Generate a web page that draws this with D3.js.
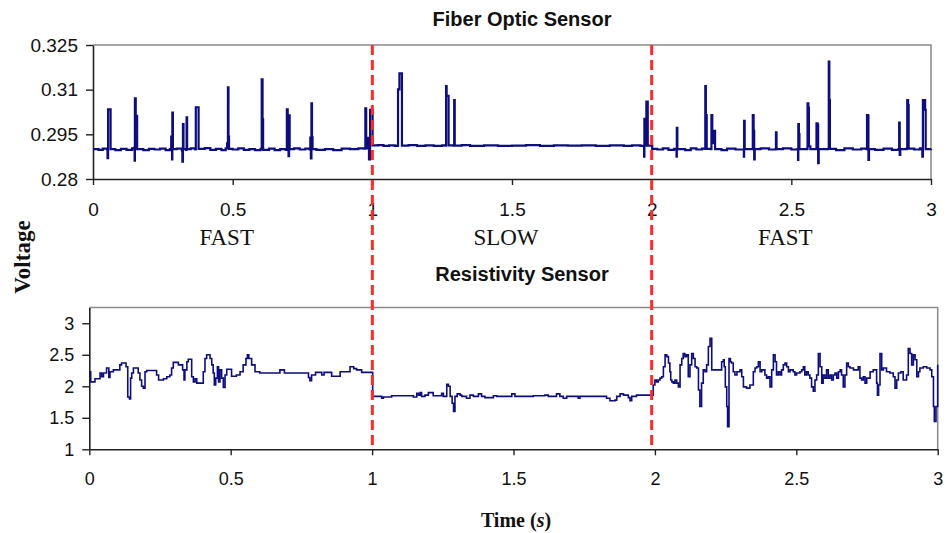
<!DOCTYPE html>
<html lang="en">
<head>
  <meta charset="UTF-8">
  <title>Fiber Optic vs Resistivity Sensor</title>
  <script src="https://cdn.jsdelivr.net/npm/d3@7"></script>
  <style>
    body { margin: 0; background: #fff; }
    svg { display: block; }
    .tick text { font-family: "Liberation Sans", Arial, sans-serif; fill: #111; }
    .title { font-family: "Liberation Sans", Arial, sans-serif; font-weight: bold; font-size: 20px; fill: #111; }
    .serif { font-family: "Liberation Serif", "Times New Roman", serif; fill: #111; }
  </style>
</head>
<body>
  <div id="chart"></div>
  <script>
    // ---- data ----
    const xTickValues = [0, 0.5, 1, 1.5, 2, 2.5, 3]
    const fiberTicks = [0.28, 0.295, 0.31, 0.325]
    const resistTicks = [1, 1.5, 2, 2.5, 3]
    const phaseLabels = ['FAST', 'SLOW', 'FAST']
    const phaseCentres = [0.5, 1.5, 2.5]
    const switchTimes = [1, 2]

    // fiber optic sensor voltage [time s, volts]
    const fiberSeries = [
      [0, 0.2900], [0.02, 0.2898], [0.035, 0.2902], [0.05, 0.2899], [0.052, 0.2870], [0.054, 0.3034], [0.062, 0.3034], [0.063, 0.2900],
      [0.08, 0.2897], [0.10, 0.2901], [0.12, 0.2898], [0.14, 0.2903], [0.147, 0.2905], [0.149, 0.2862], [0.150, 0.3071], [0.153, 0.2990],
      [0.156, 0.3012], [0.158, 0.2900], [0.18, 0.2897], [0.20, 0.2901], [0.22, 0.2899], [0.24, 0.2902], [0.26, 0.2897], [0.275, 0.2900],
      [0.28, 0.2942], [0.283, 0.2866], [0.284, 0.3023], [0.286, 0.2900], [0.30, 0.2902], [0.318, 0.2896], [0.320, 0.2858], [0.322, 0.2984],
      [0.324, 0.2900], [0.333, 0.2898], [0.335, 0.3007], [0.337, 0.2900], [0.35, 0.2903], [0.366, 0.2899], [0.368, 0.3041], [0.377, 0.3041],
      [0.378, 0.2901], [0.40, 0.2904], [0.42, 0.2898], [0.44, 0.2901], [0.46, 0.2897], [0.475, 0.2903], [0.48, 0.2920], [0.483, 0.3108],
      [0.485, 0.2942], [0.487, 0.2901], [0.50, 0.2899], [0.52, 0.2903], [0.54, 0.2898], [0.56, 0.2900], [0.58, 0.2897], [0.60, 0.2901],
      [0.604, 0.3135], [0.607, 0.3000], [0.609, 0.2898], [0.63, 0.2902], [0.65, 0.2897], [0.67, 0.2900], [0.69, 0.2898], [0.694, 0.3034],
      [0.697, 0.3014], [0.700, 0.2877], [0.702, 0.3014], [0.704, 0.2900], [0.72, 0.2903], [0.74, 0.2899], [0.76, 0.2902], [0.775, 0.2899],
      [0.778, 0.2939], [0.780, 0.2869], [0.782, 0.3054], [0.784, 0.2940], [0.786, 0.2900], [0.80, 0.2898], [0.83, 0.2900], [0.86, 0.2897],
      [0.89, 0.2902], [0.92, 0.2900], [0.95, 0.2903], [0.97, 0.2902], [0.975, 0.3037], [0.978, 0.2903], [0.985, 0.2938], [0.988, 0.2866],
      [0.992, 0.3032], [0.999, 0.3032], [1.001, 0.2913],
      [1.02, 0.2914], [1.04, 0.2911], [1.06, 0.2913], [1.08, 0.2911], [1.090, 0.2912], [1.092, 0.3101], [1.097, 0.3155], [1.104, 0.3155],
      [1.106, 0.2912], [1.13, 0.2914], [1.16, 0.2911], [1.19, 0.2913], [1.22, 0.2911], [1.25, 0.2913], [1.262, 0.2912], [1.264, 0.3112],
      [1.266, 0.3079], [1.271, 0.3079], [1.273, 0.2913], [1.291, 0.2912], [1.293, 0.3065], [1.295, 0.2912], [1.32, 0.2914], [1.35, 0.2911],
      [1.40, 0.2913], [1.45, 0.2911], [1.50, 0.2912], [1.55, 0.2914], [1.60, 0.2911], [1.65, 0.2913], [1.70, 0.2912], [1.75, 0.2913],
      [1.80, 0.2911], [1.85, 0.2913], [1.90, 0.2911], [1.93, 0.2913], [1.96, 0.2911], [1.972, 0.2912], [1.973, 0.2875], [1.974, 0.3002],
      [1.980, 0.2912], [1.981, 0.3060], [1.984, 0.3060], [1.986, 0.2912], [1.998, 0.2912], [2.002, 0.2901],
      [2.02, 0.2899], [2.04, 0.2903], [2.06, 0.2898], [2.08, 0.2901], [2.088, 0.2900], [2.089, 0.2875], [2.090, 0.2972], [2.092, 0.2900],
      [2.12, 0.2897], [2.14, 0.2903], [2.16, 0.2899], [2.18, 0.2902], [2.190, 0.2901], [2.192, 0.3112], [2.194, 0.3015], [2.197, 0.2901],
      [2.212, 0.2900], [2.214, 0.3015], [2.217, 0.2920], [2.224, 0.2962], [2.227, 0.2900], [2.25, 0.2897], [2.27, 0.2902], [2.30, 0.2899],
      [2.329, 0.2899], [2.330, 0.2875], [2.331, 0.2995], [2.333, 0.2900], [2.360, 0.2900], [2.362, 0.3015], [2.365, 0.2962], [2.367, 0.2866],
      [2.369, 0.2900], [2.39, 0.2903], [2.42, 0.2899], [2.444, 0.2900], [2.445, 0.2957], [2.447, 0.2900], [2.47, 0.2903], [2.50, 0.2899],
      [2.522, 0.2900], [2.524, 0.2864], [2.525, 0.2984], [2.527, 0.2951], [2.529, 0.2900], [2.556, 0.2901], [2.558, 0.3054], [2.561, 0.3039],
      [2.563, 0.2910], [2.568, 0.2900], [2.588, 0.2900], [2.590, 0.2987], [2.594, 0.2983], [2.596, 0.2853], [2.598, 0.2900], [2.632, 0.2901],
      [2.634, 0.3194], [2.636, 0.3065], [2.638, 0.2901], [2.66, 0.2897], [2.69, 0.2903], [2.72, 0.2899], [2.75, 0.2902], [2.769, 0.2900],
      [2.771, 0.3015], [2.774, 0.3013], [2.776, 0.2864], [2.778, 0.2900], [2.80, 0.2898], [2.83, 0.2902], [2.86, 0.2898], [2.884, 0.2900],
      [2.886, 0.2989], [2.888, 0.2881], [2.890, 0.2900], [2.913, 0.2902], [2.915, 0.3065], [2.918, 0.3049], [2.920, 0.2902], [2.94, 0.2899],
      [2.96, 0.2903], [2.968, 0.2900], [2.969, 0.2875], [2.971, 0.3065], [2.977, 0.3065], [2.979, 0.3032], [2.981, 0.2900], [3.0, 0.2902]
    ]

    // resistivity sensor voltage [time s, volts]
    const resistSeries = [
      [0, 2.23], [0.005, 2.07], [0.02, 2.12], [0.038, 2.21], [0.044, 2.15], [0.05, 2.21], [0.061, 2.29], [0.069, 2.14], [0.073, 2.23],
      [0.085, 2.26], [0.108, 2.34], [0.114, 2.37], [0.130, 2.31], [0.136, 1.83], [0.142, 1.80], [0.146, 2.13], [0.150, 2.21], [0.156, 2.29],
      [0.173, 2.21], [0.179, 2.10], [0.185, 2.00], [0.191, 1.97], [0.197, 2.23], [0.203, 2.25], [0.238, 2.18], [0.245, 2.10], [0.262, 2.12],
      [0.274, 2.15], [0.285, 2.18], [0.291, 2.29], [0.297, 2.38], [0.315, 2.34], [0.330, 2.26], [0.335, 2.10], [0.338, 2.26], [0.345, 2.39],
      [0.350, 2.43], [0.362, 2.15], [0.368, 2.07], [0.374, 2.12], [0.380, 2.05], [0.397, 2.05], [0.403, 2.23], [0.409, 2.44], [0.415, 2.50],
      [0.427, 2.44], [0.433, 2.34], [0.438, 2.21], [0.442, 2.02], [0.447, 2.13], [0.453, 2.31], [0.457, 2.07], [0.462, 2.26], [0.468, 2.13],
      [0.474, 1.98], [0.480, 2.18], [0.486, 2.27], [0.503, 2.16], [0.520, 2.18], [0.533, 2.23], [0.544, 2.34], [0.554, 2.44], [0.559, 2.50],
      [0.564, 2.44], [0.574, 2.34], [0.586, 2.23], [0.603, 2.21], [0.674, 2.26], [0.690, 2.21], [0.775, 2.14], [0.780, 2.09], [0.786, 2.18],
      [0.800, 2.22], [0.822, 2.18], [0.830, 2.22], [0.857, 2.16], [0.887, 2.23], [0.922, 2.31], [0.935, 2.28], [0.945, 2.26], [0.963, 2.22],
      [1.002, 1.84], [1.034, 1.81], [1.040, 1.83], [1.069, 1.85], [1.146, 1.83], [1.158, 1.89], [1.164, 1.86], [1.170, 1.90], [1.175, 1.84],
      [1.187, 1.86], [1.199, 1.90], [1.216, 1.85], [1.246, 1.89], [1.252, 1.84], [1.264, 2.03], [1.270, 2.00], [1.276, 1.84], [1.283, 1.73],
      [1.288, 1.60], [1.293, 1.84], [1.301, 1.88], [1.311, 1.86], [1.317, 1.84], [1.334, 1.81], [1.346, 1.86], [1.358, 1.84], [1.376, 1.88],
      [1.387, 1.84], [1.399, 1.82], [1.429, 1.85], [1.441, 1.84], [1.494, 1.88], [1.505, 1.84], [1.570, 1.85], [1.611, 1.86], [1.623, 1.84],
      [1.652, 1.88], [1.664, 1.84], [1.676, 1.81], [1.688, 1.84], [1.729, 1.81], [1.735, 1.84], [1.829, 1.81], [1.841, 1.77], [1.859, 1.78],
      [1.865, 1.84], [1.877, 1.88], [1.889, 1.86], [1.906, 1.82], [1.912, 1.77], [1.918, 1.84], [1.935, 1.86],
      [1.994, 2.02], [2.000, 2.10], [2.006, 2.07], [2.012, 2.10], [2.018, 2.13], [2.024, 2.15], [2.030, 2.31], [2.036, 2.50], [2.042, 2.47],
      [2.048, 2.37], [2.053, 2.23], [2.056, 2.10], [2.060, 2.07], [2.065, 2.05], [2.071, 2.10], [2.077, 2.05], [2.083, 1.99], [2.089, 2.34],
      [2.095, 2.44], [2.100, 2.52], [2.106, 2.47], [2.112, 2.50], [2.118, 2.15], [2.124, 2.34], [2.130, 2.52], [2.136, 2.44], [2.142, 2.31],
      [2.148, 2.29], [2.154, 1.94], [2.159, 1.68], [2.165, 2.05], [2.171, 2.26], [2.177, 2.23], [2.183, 2.34], [2.189, 2.63], [2.195, 2.76],
      [2.201, 2.26], [2.230, 2.26], [2.236, 2.39], [2.242, 2.42], [2.245, 2.31], [2.249, 1.99], [2.254, 1.68], [2.257, 1.36], [2.262, 2.44],
      [2.267, 2.39], [2.271, 2.37], [2.277, 2.23], [2.283, 2.18], [2.290, 2.23], [2.301, 2.26], [2.307, 2.15], [2.313, 1.99], [2.324, 1.97],
      [2.336, 2.02], [2.348, 2.23], [2.354, 2.29], [2.360, 2.31], [2.366, 2.39], [2.372, 2.23], [2.378, 2.26], [2.389, 2.18], [2.395, 2.13],
      [2.401, 2.15], [2.407, 1.99], [2.413, 2.26], [2.419, 2.50], [2.425, 2.39], [2.430, 2.18], [2.436, 2.23], [2.442, 2.18], [2.448, 2.26],
      [2.454, 2.34], [2.460, 2.37], [2.466, 2.31], [2.472, 2.23], [2.478, 2.26], [2.489, 2.23], [2.495, 2.18], [2.501, 2.21], [2.513, 2.23],
      [2.519, 2.26], [2.525, 2.31], [2.530, 2.18], [2.536, 2.23], [2.542, 2.18], [2.548, 2.13], [2.554, 1.99], [2.560, 1.92], [2.566, 2.10],
      [2.572, 2.18], [2.578, 2.52], [2.584, 2.31], [2.590, 2.05], [2.595, 2.18], [2.601, 2.13], [2.607, 2.26], [2.613, 2.13], [2.619, 2.18],
      [2.625, 2.10], [2.631, 2.18], [2.637, 2.21], [2.643, 2.13], [2.649, 2.23], [2.655, 2.26], [2.660, 2.18], [2.666, 1.99], [2.672, 2.18],
      [2.678, 2.37], [2.684, 2.31], [2.690, 2.29], [2.702, 2.26], [2.713, 2.26], [2.719, 2.31], [2.725, 2.13], [2.731, 2.10], [2.737, 2.15],
      [2.743, 2.05], [2.749, 2.13], [2.761, 2.23], [2.772, 2.26], [2.784, 2.05], [2.787, 1.86], [2.791, 2.02], [2.796, 2.52], [2.802, 2.26],
      [2.808, 2.29], [2.819, 2.23], [2.831, 2.21], [2.843, 2.15], [2.849, 1.97], [2.855, 2.10], [2.861, 2.21], [2.870, 2.23], [2.878, 2.10],
      [2.890, 2.18], [2.896, 2.60], [2.902, 2.52], [2.908, 2.34], [2.914, 2.50], [2.920, 2.42], [2.926, 2.15], [2.932, 2.23], [2.937, 2.29],
      [2.949, 2.31], [2.961, 2.29], [2.973, 2.26], [2.979, 2.15], [2.985, 1.68], [2.988, 1.44], [2.994, 1.68], [3.0, 2.34]
    ]

    const width = 946
    const height = 533
    const navy = '#0d0d80'

    const svg = d3.select('#chart')
      .append('svg')
      .attr('width', width)
      .attr('height', height)

    // top panel scales
    const xTop = d3.scaleLinear().domain([0, 3]).range([93, 931])
    const yTop = d3.scaleLinear().domain([0.28, 0.325]).range([179, 45])
    // bottom panel scales
    const xBot = d3.scaleLinear().domain([0, 3]).range([89.3, 937.7])
    const yBot = d3.scaleLinear().domain([1, 3.25]).range([449.3, 307.5])

    function frame(x, y) {
      const [x0, x1] = x.range()
      const [y0, y1] = y.range()
      svg.append('path')
        .attr('d', `M${x0},${y1}H${x1}V${y0}`)
        .attr('fill', 'none')
        .attr('stroke', '#8a8a8a')
        .attr('stroke-width', 1.5)
    }

    function axes(x, y, yTicks, fontX, fontY, padX) {
      const gx = svg.append('g')
        .attr('transform', `translate(0,${y.range()[0]})`)
        .call(d3.axisBottom(x).tickValues(xTickValues).tickFormat(d => String(d))
          .tickSize(6).tickSizeOuter(0).tickPadding(padX))
      gx.selectAll('text').style('font-size', fontX + 'px')

      const gy = svg.append('g')
        .attr('transform', `translate(${x.range()[0]},0)`)
        .call(d3.axisLeft(y).tickValues(yTicks).tickFormat(d => String(d))
          .tickSize(7).tickSizeOuter(0).tickPadding(8))
      gy.selectAll('text').style('font-size', fontY + 'px')

      svg.selectAll('.domain').attr('stroke', '#222').attr('stroke-width', 1.6)
      svg.selectAll('.tick line').attr('stroke', '#222').attr('stroke-width', 1.4)
    }

    frame(xTop, yTop)
    frame(xBot, yBot)
    axes(xTop, yTop, fiberTicks, 19, 19, 18)
    axes(xBot, yBot, resistTicks, 18, 18, 17)

    const lineTop = d3.line()
      .x(d => xTop(d[0]))
      .y(d => yTop(d[1]))
      .curve(d3.curveStepAfter)

    const lineBot = d3.line()
      .x(d => xBot(d[0]))
      .y(d => yBot(d[1]))
      .curve(d3.curveStepAfter)

    svg.append('path')
      .datum(fiberSeries)
      .attr('d', lineTop)
      .attr('fill', 'none')
      .attr('stroke', navy)
      .attr('stroke-width', 2.2)

    svg.append('path')
      .datum(resistSeries)
      .attr('d', lineBot)
      .attr('fill', 'none')
      .attr('stroke', navy)
      .attr('stroke-width', 1.6)

    // speed switch markers across both panels
    svg.selectAll('.switch')
      .data(switchTimes)
      .enter()
      .append('line')
      .attr('class', 'switch')
      .attr('x1', d => xTop(d))
      .attr('x2', d => xTop(d))
      .attr('y1', yTop.range()[1])
      .attr('y2', yBot.range()[0])
      .attr('stroke', '#ff2b2b')
      .attr('stroke-width', 3)
      .attr('stroke-dasharray', '10,5')

    // titles
    svg.append('text')
      .attr('class', 'title')
      .attr('x', 522)
      .attr('y', 26)
      .attr('text-anchor', 'middle')
      .text('Fiber Optic Sensor')

    svg.append('text')
      .attr('class', 'title')
      .attr('x', 522)
      .attr('y', 281)
      .attr('text-anchor', 'middle')
      .text('Resistivity Sensor')

    svg.selectAll('.phase')
      .data(phaseLabels)
      .enter()
      .append('text')
      .attr('class', 'serif phase')
      .attr('x', (d, i) => xTop(phaseCentres[i]) - 6)
      .attr('y', 245)
      .attr('text-anchor', 'middle')
      .style('font-size', '23px')
      .text(d => d)

    svg.append('text')
      .attr('class', 'serif')
      .attr('transform', 'translate(30,257) rotate(-90)')
      .attr('text-anchor', 'middle')
      .style('font-size', '23px')
      .style('font-weight', 'bold')
      .text('Voltage')

    const timeLabel = svg.append('text')
      .attr('class', 'serif')
      .attr('x', 516)
      .attr('y', 527)
      .attr('text-anchor', 'middle')
      .style('font-size', '20px')
      .style('font-weight', 'bold')
    timeLabel.append('tspan').text('Time (')
    timeLabel.append('tspan').style('font-style', 'italic').text('s')
    timeLabel.append('tspan').text(')')
  </script>
</body>
</html>
